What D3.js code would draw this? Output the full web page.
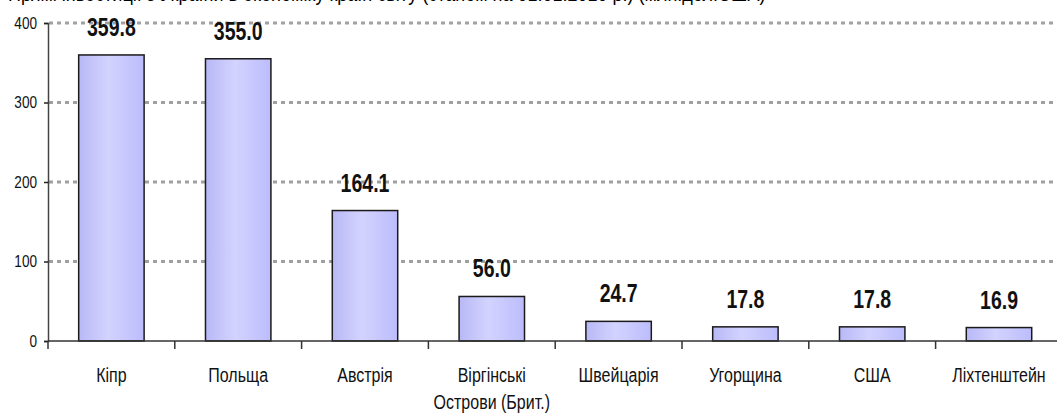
<!DOCTYPE html>
<html>
<head>
<meta charset="utf-8">
<script src="https://cdn.jsdelivr.net/npm/d3@7"></script>
<style>
  body { margin: 0; background: #fff; }
  svg { display: block; }
  text { font-family: "Liberation Sans", Arial, sans-serif; }
</style>
</head>
<body>
<div id="chart"></div>
<script>

// Data
var countries = ["Кіпр", "Польща", "Австрія", "Віргінські|Острови (Брит.)", "Швейцарія", "Угорщина", "США", "Ліхтенштейн"];
var values = [359.8, 355.0, 164.1, 56.0, 24.7, 17.8, 17.8, 16.9];
var yTicks = [0, 100, 200, 300, 400];
var title = "Прямі інвестиції з України в економіку країн світу (станом на 01.01.2010 р.) (млн.дол.США)";


// svg window sizes
var width = 1057;
var height = 415;

// narrow look: Arial metrics squeezed horizontally
var narrow = 0.8;

var svg = d3.select("#chart")
	.append("svg")
	.attr("width", width)
	.attr("height", height);

// gradient for bars
var grad = svg.append("defs")
	.append("linearGradient")
	.attr("id", "barFill")
	.attr("x1", "0%").attr("x2", "100%")
	.attr("y1", "0%").attr("y2", "0%");
grad.append("stop").attr("offset", "0%").attr("stop-color", "#b8b8f6");
grad.append("stop").attr("offset", "45%").attr("stop-color", "#d3d3ff");
grad.append("stop").attr("offset", "100%").attr("stop-color", "#bcbcfc");

// plot area
var left = 48, step = 126.8;
var x = d3.scaleBand()
	.domain(d3.range(countries.length))
	.range([left, left + step * countries.length]);

var y = d3.scaleLinear()
	.domain([0, 400])
	.range([341, 23]);

// title, cut by the top edge like in the source picture
svg.append("text")
	.attr("transform", "translate(8,1) scale(0.9,1)")
	.attr("font-size", 20)
	.attr("fill", "#000")
	.text(title);

// gridlines
svg.append("g")
	.selectAll("line")
	.data(yTicks.filter(function(d) { return d > 0; }))
	.enter().append("line")
	.attr("x1", left + 1)
	.attr("x2", width)
	.attr("y1", function(d) { return y(d); })
	.attr("y2", function(d) { return y(d); })
	.attr("stroke", "#a0a0a0")
	.attr("stroke-width", 3)
	.attr("stroke-dasharray", "4,4");

// y axis
var yAxis = svg.append("g")
	.attr("transform", "translate(" + left + ",0)")
	.call(d3.axisLeft(y).tickValues(yTicks).tickSize(4).tickFormat(d3.format("d")));
yAxis.select(".domain").attr("stroke", "#444").attr("stroke-width", 1.5);
yAxis.selectAll(".tick line").attr("stroke", "#222").attr("stroke-width", 1.5);
yAxis.selectAll("text")
	.attr("font-family", null)
	.attr("font-size", 16)
	.attr("fill", "#111")
	.attr("x", -11 / 0.85)
	.attr("transform", "scale(0.85,1)");

// bars
var barW = x.bandwidth() * 0.516;
svg.append("g")
	.selectAll("rect")
	.data(values)
	.enter().append("rect")
	.attr("x", function(d, i) { return x(i) + (x.bandwidth() - barW) / 2; })
	.attr("y", function(d) { return y(d); })
	.attr("width", barW)
	.attr("height", function(d) { return y(0) - y(d); })
	.attr("fill", "url(#barFill)")
	.attr("stroke", "#1a1a1a")
	.attr("stroke-width", 1.5);

// x axis line and ticks at category boundaries
svg.append("line")
	.attr("x1", left).attr("x2", width)
	.attr("y1", y(0)).attr("y2", y(0))
	.attr("stroke", "#333").attr("stroke-width", 1.5);

svg.append("g")
	.selectAll("line")
	.data(d3.range(countries.length))
	.enter().append("line")
	.attr("x1", function(d) { return x(d); })
	.attr("x2", function(d) { return x(d); })
	.attr("y1", y(0))
	.attr("y2", y(0) + 8)
	.attr("stroke", "#333").attr("stroke-width", 1.5);

// category labels
var labels = svg.append("g")
	.selectAll("text")
	.data(countries)
	.enter().append("text")
	.attr("text-anchor", "middle")
	.attr("font-size", 20)
	.attr("fill", "#111")
	.attr("transform", function(d, i) {
		return "translate(" + (x(i) + x.bandwidth() / 2) + ",382) scale(" + narrow + ",1.04)";
	});

labels.each(function(d) {
	var parts = d.split("|");
	var t = d3.select(this);
	parts.forEach(function(p, k) {
		t.append("tspan")
			.attr("x", 0)
			.attr("y", k * 26)
			.text(p);
	});
});

// value labels
svg.append("g")
	.selectAll("text")
	.data(values)
	.enter().append("text")
	.attr("text-anchor", "middle")
	.attr("font-size", 25)
	.attr("font-weight", "bold")
	.attr("fill", "#111")
	.attr("transform", function(d, i) {
		return "translate(" + (x(i) + x.bandwidth() / 2) + "," + (y(d) - 19) + ") scale(0.78,1)";
	})
	.text(function(d) { return d.toFixed(1); });

</script>
</body>
</html>
